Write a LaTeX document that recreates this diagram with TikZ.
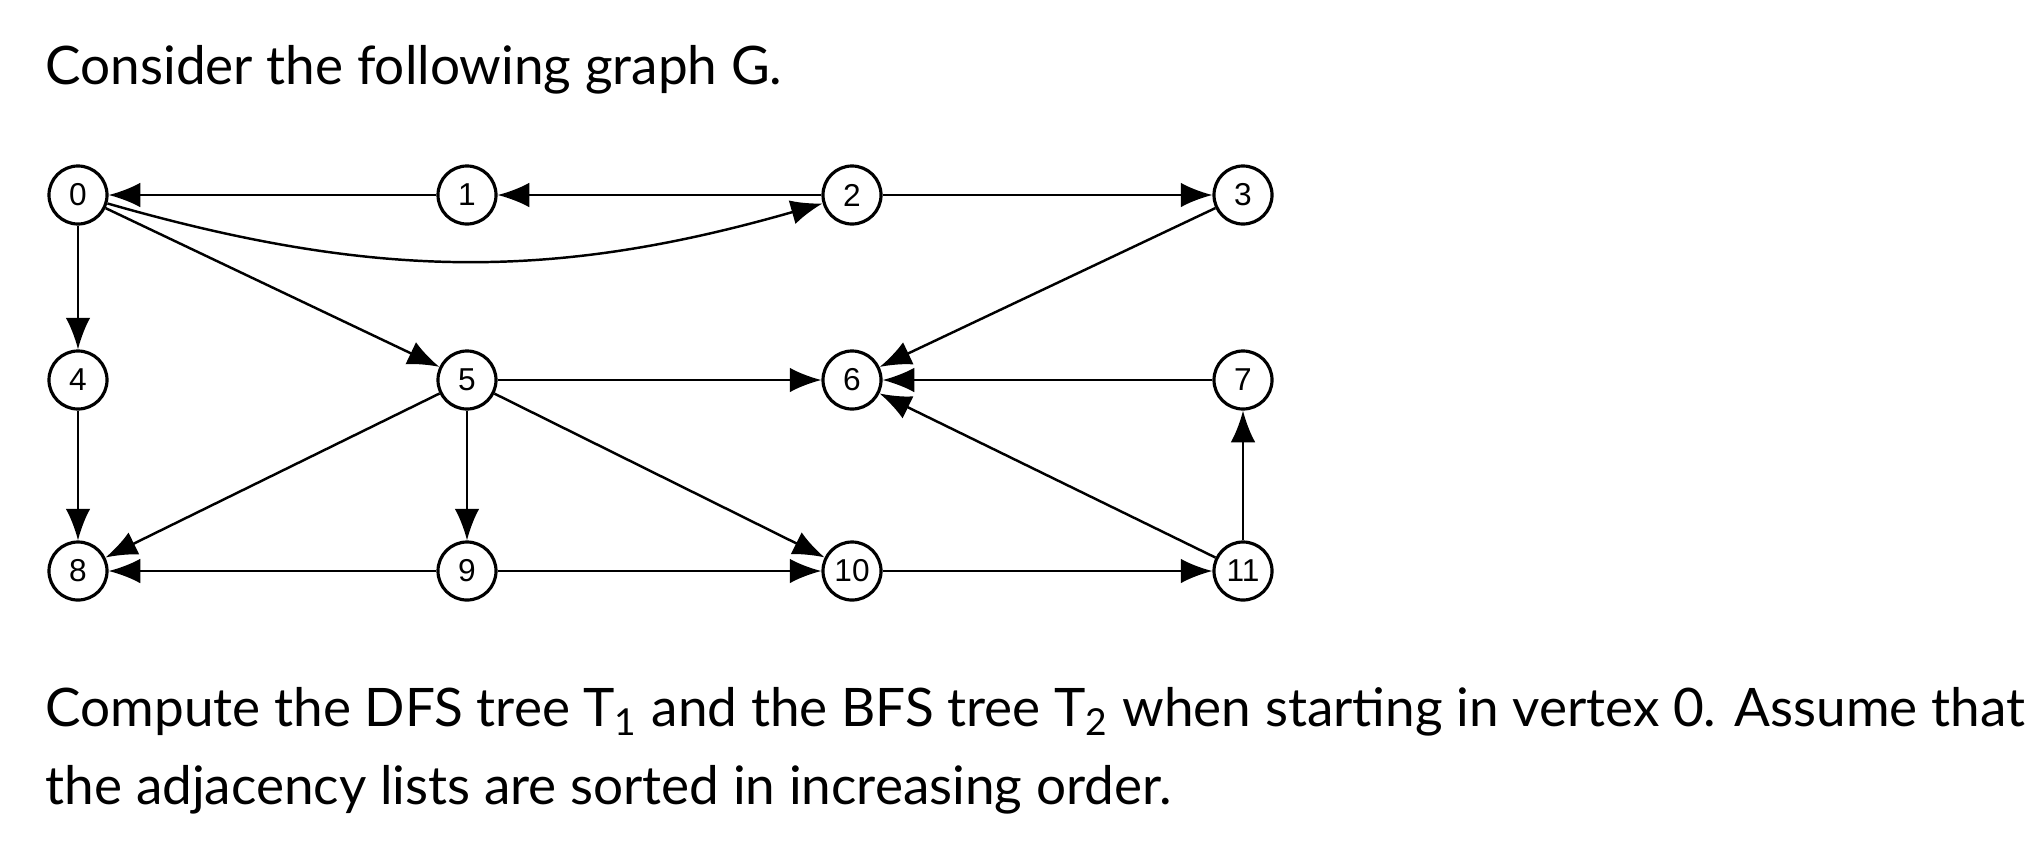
\documentclass[tikz,border=0pt]{standalone}
\usepackage{fontspec}
\setmainfont{Lato}
\newfontfamily\nodefont{Liberation Sans}
\usetikzlibrary{arrows.meta}
\begin{document}
\begin{tikzpicture}[x=0.01cm,y=-0.01cm,
  v/.style={circle,draw,line width=0.9pt,minimum size=0.58cm,inner sep=0pt,font=\nodefont\fontsize{9pt}{9pt}\selectfont},
  e/.style={draw,line width=0.7pt,-{Latex[length=9pt,width=7pt]}},
  txt/.style={anchor=base west,inner sep=0pt,font=\fontsize{15.1pt}{15.1pt}\selectfont}]
\useasboundingbox[fill=white] (0,0) rectangle (2034,854);
\node[txt] (t1) at (45,84) {Consider the following graph G.};
\node[txt] (t2) at (45,726) {Compute the DFS tree T\textsubscript{1} and the BFS tree T\textsubscript{2} when starting in vertex 0. Assume that};
\node[txt] (t3) at (45,804) {the adjacency lists are sorted in increasing order.};
\node[v] (n0) at (78,195) {0};
\node[v] (n1) at (467,195) {1};
\node[v] (n2) at (852,195) {2};
\node[v] (n3) at (1243,195) {3};
\node[v] (n4) at (78,380) {4};
\node[v] (n5) at (467,380) {5};
\node[v] (n6) at (852,380) {6};
\node[v] (n7) at (1243,380) {7};
\node[v] (n8) at (78,571) {8};
\node[v] (n9) at (467,571) {9};
\node[v] (n10) at (852,571) {10};
\node[v] (n11) at (1243,571) {11};
\draw[e] (n1) -- (n0);
\draw[e] (n2) -- (n1);
\draw[e] (n0) to[bend right=16] (n2);
\draw[e] (n2) -- (n3);
\draw[e] (n0) -- (n4);
\draw[e] (n0) -- (n5);
\draw[e] (n3) -- (n6);
\draw[e] (n5) -- (n6);
\draw[e] (n7) -- (n6);
\draw[e] (n11) -- (n6);
\draw[e] (n4) -- (n8);
\draw[e] (n5) -- (n8);
\draw[e] (n5) -- (n9);
\draw[e] (n5) -- (n10);
\draw[e] (n11) -- (n7);
\draw[e] (n9) -- (n8);
\draw[e] (n9) -- (n10);
\draw[e] (n10) -- (n11);
\end{tikzpicture}
\end{document}
